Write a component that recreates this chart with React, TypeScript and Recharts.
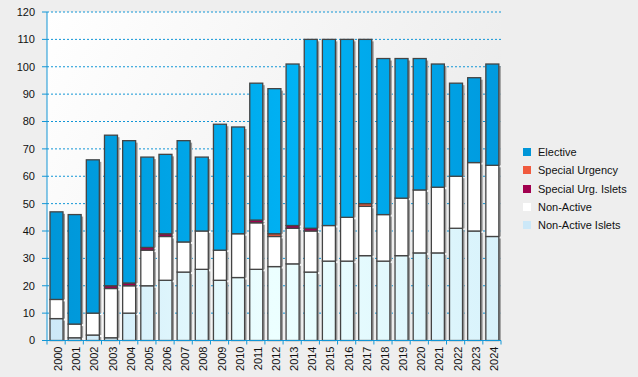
import { Bar, BarChart, CartesianGrid, XAxis, YAxis } from "recharts";

const years = [
  "2000", "2001", "2002", "2003", "2004", "2005", "2006", "2007", "2008",
  "2009", "2010", "2011", "2012", "2013", "2014", "2015", "2016", "2017",
  "2018", "2019", "2020", "2021", "2022", "2023", "2024",
];
const nonActiveIslets = [8, 1, 2, 1, 10, 20, 22, 25, 26, 22, 23, 26, 27, 28, 25, 29, 29, 31, 29, 31, 32, 32, 41, 40, 38];
const nonActive = [7, 5, 8, 18, 10, 13, 16, 11, 14, 11, 16, 17, 11, 13, 15, 13, 16, 18, 17, 21, 23, 24, 19, 25, 26];
const specialUrgIslets = [0, 0, 0, 1, 1, 1, 1, 0, 0, 0, 0, 1, 0, 1, 1, 0, 0, 0, 0, 0, 0, 0, 0, 0, 0];
const specialUrgency = [0, 0, 0, 0, 0, 0, 0, 0, 0, 0, 0, 0, 1, 0, 0, 0, 0, 1, 0, 0, 0, 0, 0, 0, 0];
const elective = [32, 40, 56, 55, 52, 33, 29, 37, 27, 46, 39, 50, 53, 59, 69, 68, 65, 60, 57, 51, 48, 45, 34, 31, 37];
const yTicks = [0, 10, 20, 30, 40, 50, 60, 70, 80, 90, 100, 110, 120];

const data = years.map((year, i) => ({
  year,
  nonActiveIslets: nonActiveIslets[i],
  nonActive: nonActive[i],
  specialUrgIslets: specialUrgIslets[i],
  specialUrgency: specialUrgency[i],
  elective: elective[i],
}));

const legendItems = [
  { label: "Elective", color: "#0096d8" },
  { label: "Special Urgency", color: "#f05a3e" },
  { label: "Special Urg. Islets", color: "#a1004f" },
  { label: "Non-Active", color: "#ffffff" },
  { label: "Non-Active Islets", color: "#cce8f8" },
];

const W = 638;
const H = 377;
const LEFT = 47;
const RIGHT = 137;
const TOP = 12;
const XAXIS_H = 36.5;
const PLOT_W = W - LEFT - RIGHT;
const AXIS_Y = H - XAXIS_H;
const AXIS_BLUE = "#1296d6";
const FONT = "'Liberation Sans', Arial, sans-serif";

const Segment = (props: any) => {
  const { x, y, width, height, fill } = props;
  if (!height || height <= 0) return null;
  return (
    <g>
      <rect x={x + width} y={y + 2} width={2} height={Math.max(height - 2, 0)} fill="#999" />
      <rect x={x} y={y} width={width} height={height} fill={fill} stroke="#444" strokeWidth={1.3} />
    </g>
  );
};

const YearTick = (props: any) => {
  const { x, payload, index } = props;
  const band = PLOT_W / years.length;
  const left = x - band / 2;
  return (
    <g>
      <line x1={left} x2={left} y1={AXIS_Y} y2={AXIS_Y + 4} stroke={AXIS_BLUE} />
      {index === years.length - 1 && (
        <line x1={left + band} x2={left + band} y1={AXIS_Y} y2={AXIS_Y + 4} stroke={AXIS_BLUE} />
      )}
      <text
        x={x + 2}
        y={AXIS_Y + 6}
        transform={`rotate(-90, ${x + 2}, ${AXIS_Y + 6})`}
        textAnchor="end"
        dominantBaseline="central"
        fontSize={11}
        fontFamily={FONT}
        fill="#111"
      >
        {payload.value}
      </text>
    </g>
  );
};

export default function App() {
  return (
    <div style={{ position: "absolute", left: 0, top: 0, width: W, height: H, background: "#eeeeee" }}>
      <BarChart width={W} height={H} data={data} margin={{ top: TOP, right: RIGHT, bottom: 0, left: 0 }}>
        <defs>
          <linearGradient id="plotBg" x1="0" y1="0" x2="1" y2="0.4">
            <stop offset="0%" stopColor="#ffffff" />
            <stop offset="100%" stopColor="#ececec" />
          </linearGradient>
          <linearGradient id="electiveFill" gradientUnits="userSpaceOnUse" x1={LEFT} y1="0" x2={LEFT + PLOT_W} y2="0">
            <stop offset="0%" stopColor="#0096d8" />
            <stop offset="55%" stopColor="#00b2f4" />
            <stop offset="100%" stopColor="#009ade" />
          </linearGradient>
          <linearGradient id="isletsFill" gradientUnits="userSpaceOnUse" x1={LEFT} y1="0" x2={LEFT + PLOT_W} y2="0">
            <stop offset="0%" stopColor="#cce8f8" />
            <stop offset="50%" stopColor="#ecffff" />
            <stop offset="100%" stopColor="#d8f2fb" />
          </linearGradient>
        </defs>
        <CartesianGrid vertical={false} stroke={AXIS_BLUE} strokeDasharray="2 2" fill="url(#plotBg)" />
        <XAxis
          dataKey="year"
          height={XAXIS_H}
          interval={0}
          tickLine={false}
          axisLine={{ stroke: AXIS_BLUE }}
          tick={<YearTick />}
        />
        <YAxis
          width={LEFT}
          domain={[0, 120]}
          ticks={yTicks}
          interval={0}
          tickSize={5}
          tickMargin={7}
          axisLine={{ stroke: AXIS_BLUE }}
          tickLine={{ stroke: AXIS_BLUE }}
          tick={{ fontSize: 11, fill: "#111", fontFamily: FONT }}
        />
        <Bar dataKey="nonActiveIslets" stackId="a" barSize={13} fill="url(#isletsFill)" shape={<Segment />} isAnimationActive={false} />
        <Bar dataKey="nonActive" stackId="a" barSize={13} fill="#ffffff" shape={<Segment />} isAnimationActive={false} />
        <Bar dataKey="specialUrgIslets" stackId="a" barSize={13} fill="#a1004f" shape={<Segment />} isAnimationActive={false} />
        <Bar dataKey="specialUrgency" stackId="a" barSize={13} fill="#f05a3e" shape={<Segment />} isAnimationActive={false} />
        <Bar dataKey="elective" stackId="a" barSize={13} fill="url(#electiveFill)" shape={<Segment />} isAnimationActive={false} />
      </BarChart>
      <div style={{ position: "absolute", left: 523, top: 143, fontFamily: FONT, fontSize: 11, color: "#111" }}>
        {legendItems.map((item) => (
          <div key={item.label} style={{ display: "flex", alignItems: "center", height: 18.3 }}>
            <span style={{ width: 8, height: 8, background: item.color, marginRight: 7, display: "inline-block" }} />
            <span>{item.label}</span>
          </div>
        ))}
      </div>
    </div>
  );
}
